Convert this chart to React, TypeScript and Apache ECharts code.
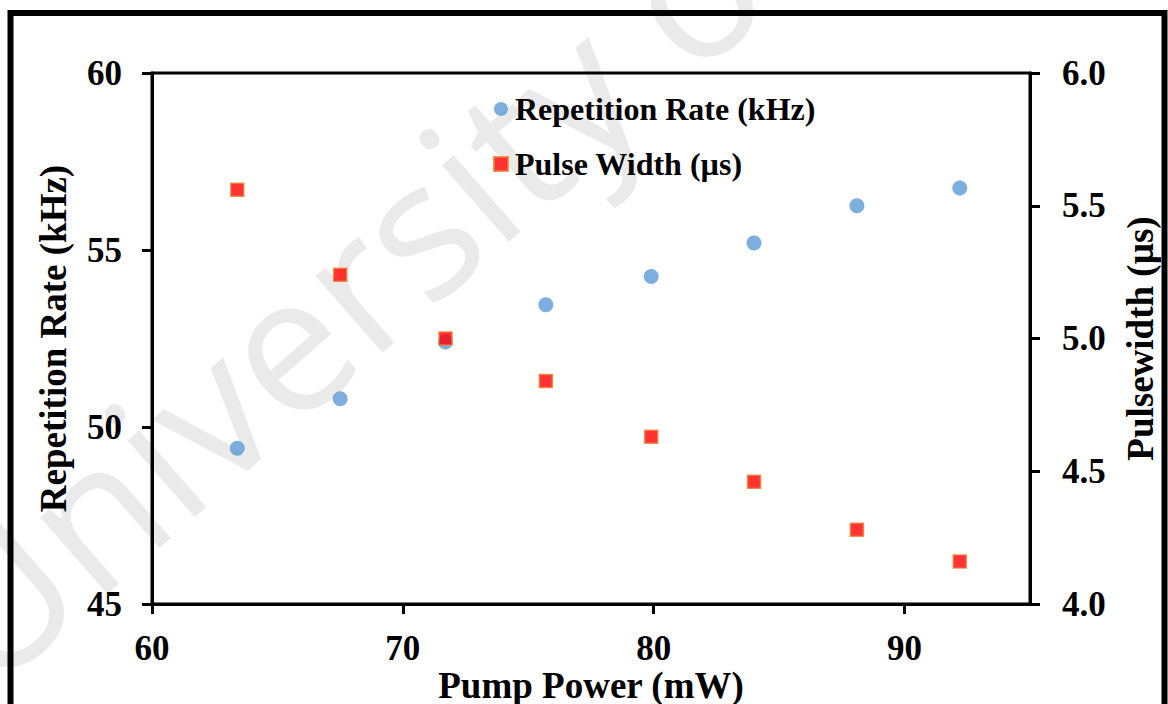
import React, { useEffect, useRef } from "react";
import * as echarts from "echarts";

const pumpPower = [63.4, 67.5, 71.7, 75.7, 79.9, 84.0, 88.1, 92.2];
const repRate = [49.4, 50.8, 52.4, 53.45, 54.25, 55.2, 56.25, 56.75];
const pulseWidth = [5.56, 5.24, 5.0, 4.84, 4.63, 4.46, 4.28, 4.16];
const xTicks = [60, 70, 80, 90];

const FONT = "'Liberation Serif', 'Times New Roman', serif";

export default function App() {
  const ref = useRef<HTMLDivElement>(null);
  useEffect(() => {
    document.body.style.margin = "0";
    const chart = echarts.init(ref.current!, null, { renderer: "svg" });
    const labelStyle = {
      color: "#000",
      fontFamily: FONT,
      fontWeight: "bold" as const,
      fontSize: 35,
    };
    const nameStyle = {
      color: "#000",
      fontFamily: FONT,
      fontWeight: "bold" as const,
      fontSize: 37,
    };
    chart.setOption({
      animation: false,
      backgroundColor: "#fff",
      grid: {
        left: 152,
        top: 73,
        right: 138,
        bottom: 100,
        show: true,
        borderColor: "#000",
        borderWidth: 3,
        containLabel: false,
        outerBoundsMode: "none",
      },
      graphic: [
        {
          type: "text",
          z: -10,
          silent: true,
          x: 5,
          y: 712,
          rotation: 0.72,
          style: {
            text: "University of Malaya",
            font: "190px 'Open Sans'",
            fill: "#eaeaea",
            textAlign: "left",
            textVerticalAlign: "bottom",
          },
        },
        {
          type: "rect",
          z: 100,
          silent: true,
          shape: { x: 10.5, y: 13, width: 1154, height: 800 },
          style: { fill: "none", stroke: "#000", lineWidth: 6 },
        },
      ],
      legend: {
        orient: "vertical",
        left: 488,
        top: 88,
        itemWidth: 14,
        itemHeight: 14,
        itemGap: 23,
        textStyle: {
          color: "#000",
          fontFamily: FONT,
          fontWeight: "bold",
          fontSize: 32,
          padding: [0, 0, 0, 2],
        },
        data: [
          { name: "Repetition Rate (kHz)", icon: "circle" },
          { name: "Pulse Width (µs)", icon: "rect" },
        ],
      },
      xAxis: {
        type: "value",
        min: 60,
        max: 95,
        interval: 10,
        name: "Pump Power (mW)",
        nameLocation: "middle",
        nameGap: 63,
        nameMoveOverlap: false,
        nameTextStyle: nameStyle,
        splitLine: { show: false },
        axisLine: { show: true, lineStyle: { color: "#000", width: 3 } },
        axisTick: {
          show: true,
          length: 10,
          customValues: xTicks,
          lineStyle: { color: "#000", width: 3 },
        },
        axisLabel: { ...labelStyle, margin: 27, customValues: xTicks },
      },
      yAxis: [
        {
          type: "value",
          min: 45,
          max: 60,
          interval: 5,
          name: "Repetition Rate (kHz)",
          nameLocation: "middle",
          nameGap: 80,
          nameTextStyle: nameStyle,
          splitLine: { show: false },
          axisLine: { show: true, lineStyle: { color: "#000", width: 3 } },
          axisTick: { show: true, length: 10, lineStyle: { color: "#000", width: 3 } },
          axisLabel: { ...labelStyle, margin: 30 },
        },
        {
          type: "value",
          min: 4.0,
          max: 6.0,
          interval: 0.5,
          position: "right",
          name: "Pulsewidth (µs)",
          nameLocation: "middle",
          nameGap: 92,
          nameTextStyle: nameStyle,
          splitLine: { show: false },
          axisLine: { show: true, lineStyle: { color: "#000", width: 3 } },
          axisTick: { show: true, length: 10, lineStyle: { color: "#000", width: 3 } },
          axisLabel: {
            ...labelStyle,
            margin: 32,
            formatter: (v: number) => v.toFixed(1),
          },
        },
      ],
      series: [
        {
          name: "Repetition Rate (kHz)",
          type: "scatter",
          yAxisIndex: 0,
          symbol: "circle",
          symbolSize: 15,
          itemStyle: { color: "#5B9BD5" },
          data: pumpPower.map((x, i) => [x, repRate[i]]),
          z: 2,
        },
        {
          name: "Pulse Width (µs)",
          type: "scatter",
          yAxisIndex: 1,
          symbol: "rect",
          symbolSize: 13,
          itemStyle: { color: "#FF0000", borderColor: "#ED7D31", borderWidth: 1.5 },
          data: pumpPower.map((x, i) => [x, pulseWidth[i]]),
          z: 3,
        },
      ],
    });
    return () => chart.dispose();
  }, []);
  return <div ref={ref} style={{ width: 1168, height: 704 }} />;
}
